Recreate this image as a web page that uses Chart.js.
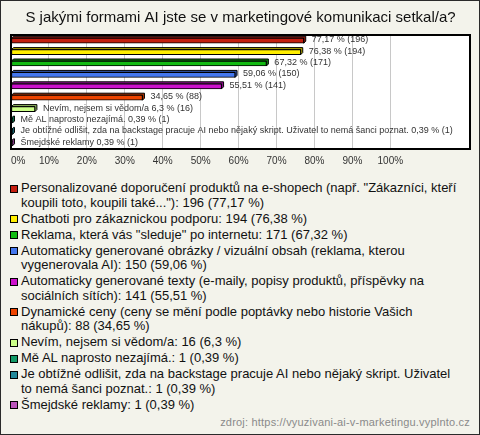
<!DOCTYPE html>
<html>
<head>
<meta charset="utf-8">
<script src="https://cdn.jsdelivr.net/npm/chart.js@4.4.1/dist/chart.umd.min.js"></script>
<style>
  html, body { margin: 0; padding: 0; }
  body { width: 480px; height: 435px; background: #f3f3eb; position: relative; overflow: hidden;
         font-family: "Liberation Sans", Arial, sans-serif; }
  #frame { position: absolute; left: 0; top: 0; width: 480px; height: 435px; box-sizing: border-box;
           border: 1px solid #2a2a2a; pointer-events: none; }
  #c { position: absolute; left: 0; top: 0; }
  #legend { position: absolute; left: 10px; top: 181px; width: 465px; margin: 0; padding: 0; list-style: none;
            font-size: 13px; line-height: 14.5px; color: #111; white-space: nowrap; }
  #legend li { display: flex; align-items: flex-start; margin-bottom: 1.5px; }
  #legend .sw { flex: 0 0 auto; width: 6px; height: 6px; border: 1px solid #000; margin-top: 3.5px; margin-right: 3px; }
  #src { position: absolute; right: 10px; top: 416px; font-size: 11px; letter-spacing: 0.2px; color: #8a8a8a; }
</style>
</head>
<body>
<canvas id="c" width="480" height="178"></canvas>
<ul id="legend"></ul>
<div id="src"></div>
<div id="frame"></div>
<script>
const titleText = "S jakými formami AI jste se v marketingové komunikaci setkal/a?";
const categories = [
  "Personalizované doporučení produktů na e-shopech (např. \"Zákazníci, kteří koupili toto, koupili také...\")",
  "Chatboti pro zákaznickou podporu",
  "Reklama, která vás \"sleduje\" po internetu",
  "Automaticky generované obrázky / vizuální obsah (reklama, kterou vygenerovala AI)",
  "Automaticky generované texty (e-maily, popisy produktů, příspěvky na sociálních sítích)",
  "Dynamické ceny (ceny se mění podle poptávky nebo historie Vašich nákupů)",
  "Nevím, nejsem si vědom/a",
  "Mě AL naprosto nezajímá.",
  "Je obtížné odlišit, zda na backstage pracuje AI nebo nějaký skript. Uživatel to nemá šanci poznat.",
  "Šmejdské reklamy"
];
const percents = [77.17, 76.38, 67.32, 59.06, 55.51, 34.65, 6.3, 0.39, 0.39, 0.39];
const counts = [196, 194, 171, 150, 141, 88, 16, 1, 1, 1];
const barNames = ["", "", "", "", "", "",
  "Nevím, nejsem si vědom/a",
  "Mě AL naprosto nezajímá.",
  "Je obtížné odlišit, zda na backstage pracuje AI nebo nějaký skript. Uživatel to nemá šanci poznat.",
  "Šmejdské reklamy"];
// word where the legend entry continues on a second line (as in the reference)
const legendBreakBefore = ["koupili toto", null, null, "vygenerovala", "sociálních", "nákupů)", null, null, "to nemá", null];
const colors = ["#c41f10", "#ffee00", "#11bb11", "#4477ee", "#cc11cc", "#ee4400", "#ccff88", "#119966", "#228899", "#bb55bb"];
const tickValues = [0, 10, 20, 30, 40, 50, 60, 70, 80, 90, 100, 110, 120];
const sourceText = "zdroj: https://vyuzivani-ai-v-marketingu.vyplnto.cz";

const fmt = v => String(v).replace('.', ',');

function darken(hex, f) {
  const n = parseInt(hex.slice(1), 16);
  const r = Math.round(((n >> 16) & 255) * f), g = Math.round(((n >> 8) & 255) * f), b = Math.round((n & 255) * f);
  return `rgb(${r},${g},${b})`;
}

// HTML legend
const ul = document.getElementById('legend');
categories.forEach((c, i) => {
  const li = document.createElement('li');
  const sw = document.createElement('span');
  sw.className = 'sw'; sw.style.background = colors[i];
  const t = document.createElement('span');
  const full = `${c}: ${counts[i]} (${fmt(percents[i])} %)`;
  const br = legendBreakBefore[i];
  const k = br ? full.indexOf(' ' + br) : -1;
  if (k >= 0) {
    t.appendChild(document.createTextNode(full.slice(0, k)));
    t.appendChild(document.createElement('br'));
    t.appendChild(document.createTextNode(full.slice(k + 1)));
  } else {
    t.textContent = full;
  }
  li.appendChild(sw); li.appendChild(t);
  ul.appendChild(li);
});
document.getElementById('src').textContent = sourceText;

const D = 2;
const bar3d = {
  id: 'bar3d',
  beforeDatasetsDraw(chart) {
    const ctx = chart.ctx;
    const meta = chart.getDatasetMeta(0);
    ctx.save();
    meta.data.forEach((b, i) => {
      const h = b.height, top = b.y - h / 2, bot = b.y + h / 2;
      ctx.beginPath();
      ctx.moveTo(b.base, top);
      ctx.lineTo(b.base + D, top - D);
      ctx.lineTo(b.x + D, top - D);
      ctx.lineTo(b.x + D, bot - D);
      ctx.lineTo(b.x, bot);
      ctx.lineTo(b.x, top);
      ctx.closePath();
      ctx.fillStyle = darken(colors[i], 0.7);
      ctx.fill();
      ctx.lineWidth = 1;
      ctx.strokeStyle = '#000';
      ctx.stroke();
    });
    ctx.restore();
  },
  afterDatasetsDraw(chart) {
    const ctx = chart.ctx;
    const meta = chart.getDatasetMeta(0);
    ctx.save();
    ctx.font = '9px "Liberation Sans", Arial, sans-serif';
    ctx.fillStyle = '#333';
    ctx.textBaseline = 'middle';
    ctx.textAlign = 'left';
    meta.data.forEach((b, i) => {
      const txt = (barNames[i] ? barNames[i] + ' ' : '') + fmt(percents[i]) + ' % (' + counts[i] + ')';
      ctx.fillText(txt, b.x + 8, b.y - 1);
    });
    const a = chart.chartArea;
    ctx.lineWidth = 2;
    ctx.strokeStyle = '#000';
    ctx.strokeRect(a.left, a.top, a.right - a.left, a.bottom - a.top);
    ctx.restore();
  },
  beforeDraw(chart) {
    const a = chart.chartArea, ctx = chart.ctx;
    ctx.save();
    ctx.fillStyle = '#fff';
    ctx.fillRect(a.left, a.top, a.right - a.left, a.bottom - a.top);
    ctx.restore();
  }
};

new Chart(document.getElementById('c'), {
  type: 'bar',
  data: {
    labels: categories,
    datasets: [{
      data: percents,
      backgroundColor: colors,
      borderColor: '#000',
      borderWidth: 1,
      borderSkipped: false,
      barThickness: 5
    }]
  },
  options: {
    indexAxis: 'y',
    responsive: false,
    animation: false,
    layout: { padding: { left: 11, right: 10, top: 0, bottom: 5 } },
    plugins: {
      legend: { display: false },
      tooltip: { enabled: false },
      title: {
        display: true, text: titleText, color: '#111',
        font: { size: 15, family: '"Liberation Sans", Arial, sans-serif', weight: 'normal' },
        padding: { top: 9, bottom: 8 }
      }
    },
    scales: {
      y: { display: false },
      x: {
        min: 0, max: 121,
        afterBuildTicks(s) { s.ticks = tickValues.map(v => ({ value: v })); },
        border: { display: false },
        grid: { drawTicks: false, color: c => (c.tick && c.tick.value > 100) ? 'rgba(0,0,0,0)' : '#c8c8c8', lineWidth: 1 },
        ticks: {
          align: 'inner', padding: 6, color: '#333', maxRotation: 0, autoSkip: false,
          font: { size: 10, family: '"Liberation Sans", Arial, sans-serif' },
          callback: v => v > 100 ? '' : v + '%'
        }
      }
    }
  },
  plugins: [bar3d]
});
</script>
</body>
</html>
